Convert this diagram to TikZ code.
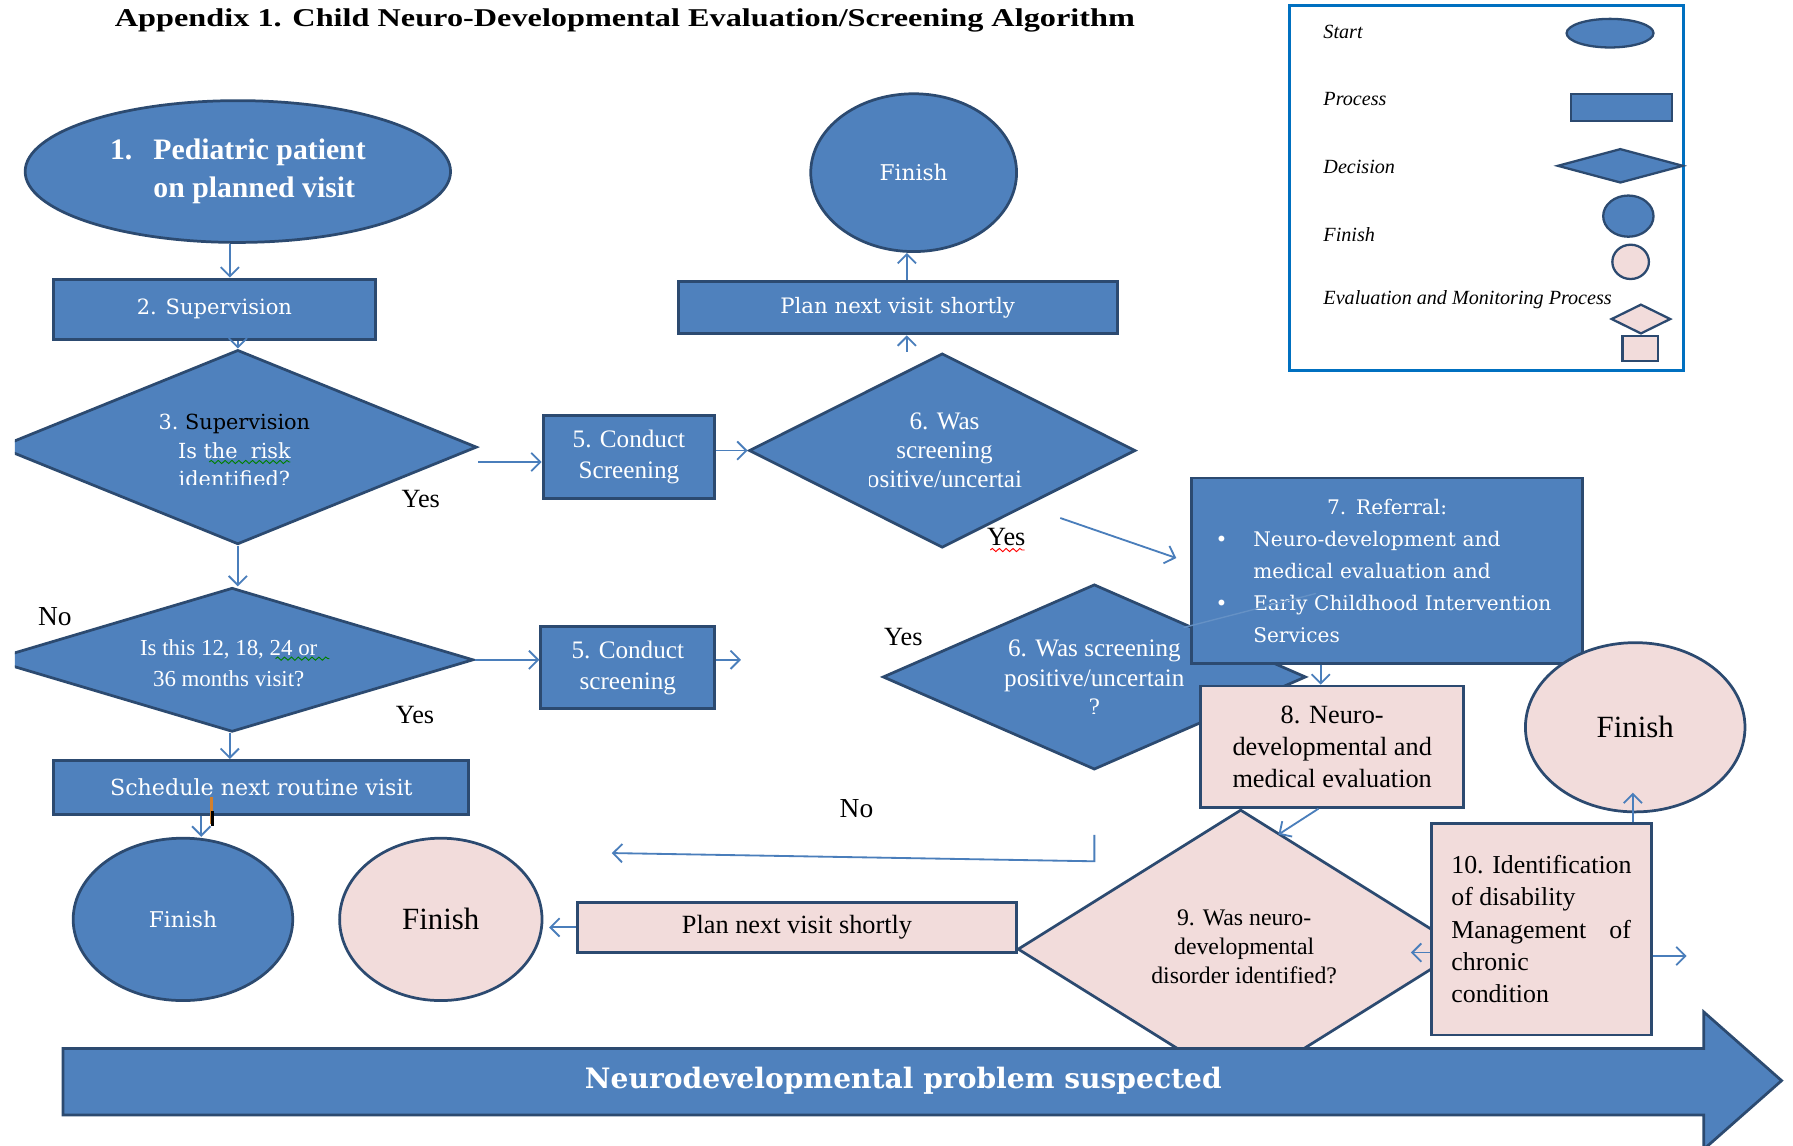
\documentclass[tikz,border=0pt]{standalone}
\usepackage{fontspec}
\setmainfont{Liberation Serif}
\newfontfamily\dvs{DejaVu Serif}
\newfontfamily\ttlf[FakeStretch=1.26]{Liberation Serif}
\usetikzlibrary{shapes.geometric,arrows.meta,calc,decorations.pathmorphing}
\definecolor{bF}{RGB}{79,129,189}
\definecolor{bD}{RGB}{44,74,112}
\definecolor{pF}{RGB}{242,220,219}
\definecolor{aC}{RGB}{74,126,187}
\definecolor{lgB}{RGB}{0,112,192}
\tikzset{
  bfill/.style={fill=bF, draw=bD, line width=1.2pt},
  pfill/.style={fill=pF, draw=bD, line width=1.2pt},
  arr/.style={draw=aC, line width=0.8pt, -{Straight Barb[length=4pt,width=8pt]}},
  wtxt/.style={text=white, align=center, inner sep=0pt},
  dtxt/.style={text=black, align=center, inner sep=0pt},
  rbox/.style={rectangle, inner sep=0pt},
  ell/.style={ellipse, inner sep=0pt},
  dia/.style={diamond, inner sep=0pt},
  lbl/.style={inner sep=0pt, font=\fontsize{11.5}{13}\selectfont},
  lgt/.style={inner sep=0pt, anchor=west, font=\itshape\fontsize{8.8}{10}\selectfont},
  squig/.style={line width=0.4pt, decorate, decoration={snake, amplitude=0.7pt, segment length=3pt}}
}
\begin{document}
\begin{tikzpicture}[x=0.5pt,y=-0.5pt]
\useasboundingbox (0,0) rectangle (1568,1002);
\fill[white] (0,0) rectangle (1568,1002);

% title
\node[inner sep=0pt, font=\ttlf\bfseries\fontsize{11.2}{13}\selectfont] (title) at (546.5,18) {Appendix 1. Child Neuro-Developmental Evaluation/Screening Algorithm};

% legend
\node[rectangle, draw=lgB, line width=1.3pt, minimum width=172pt, minimum height=159.5pt, inner sep=0pt] (legend) at (1300,164.5) {};
\node[lgt] (lgt1) at (1157,28) {Start};
\node[lgt] (lgt2) at (1157,87) {Process};
\node[lgt] (lgt3) at (1157,146) {Decision};
\node[lgt] (lgt4) at (1157,205) {Finish};
\node[lgt] (lgt5) at (1157,262) {Evaluation and Monitoring Process};
\node[ell, bfill, line width=1pt, minimum width=38pt, minimum height=12.5pt] (lg1) at (1408,29) {};
\node[rbox, bfill, line width=1pt, minimum width=44pt, minimum height=12pt] (lg2) at (1418,94) {};
\node[dia, bfill, line width=1pt, minimum width=55pt, minimum height=15pt] (lg3) at (1417,145) {};
\node[ell, bfill, line width=1pt, minimum width=22pt, minimum height=18pt] (lg4) at (1424,189) {};
\node[ell, pfill, line width=1pt, minimum width=16pt, minimum height=15pt] (lg5) at (1426,229) {};
\node[dia, pfill, line width=1pt, minimum width=26pt, minimum height=13pt] (lg6) at (1435,279) {};
\node[rbox, pfill, line width=1pt, minimum width=15.5pt, minimum height=11pt] (lg7) at (1434.5,305) {};

% start
\node[ell, bfill, minimum width=186pt, minimum height=62pt, text=white, align=left,
      font=\bfseries\fontsize{13}{16.5}\selectfont] (n1) at (208,150)
  {\makebox[19pt][l]{1.}Pediatric patient\\\hspace*{19pt}on planned visit};

\node[rbox, bfill, line width=1.3pt, minimum width=140.5pt, minimum height=26.5pt, text=white,
      font=\dvs\fontsize{9.2}{11}\selectfont] (n2) at (187.5,270.5) {2. Supervision};

% left clipped diamonds
\begin{scope}
\clip (13,0) rectangle (1568,1002);
\node[dia, bfill, minimum width=209pt, minimum height=85pt] (n3) at (208,391) {};
\node[dia, bfill, minimum width=211pt, minimum height=63pt] (n4) at (203,577) {};
\end{scope}
\begin{scope}
\clip (0,0) rectangle (1568,424);
\node[wtxt, font=\dvs\fontsize{9.1}{12.5}\selectfont] (t3) at (205,394)
  {3.\ \textcolor{black}{Supervision}\\Is the\ \ risk\\identified?};
\end{scope}
\draw[green!50!black, squig] (183,404) -- (254,404);
\node[wtxt, font=\fontsize{10}{13.5}\selectfont] (t4) at (200,580) {Is this 12, 18, 24 or\\36 months visit?};
\draw[green!50!black, squig] (241,576) -- (288,576);

\node[rbox, bfill, line width=1.3pt, minimum width=75pt, minimum height=36.5pt, text=white, align=center,
      font=\fontsize{11}{13.5}\selectfont] (n5a) at (550,399.5) {5. Conduct\\Screening};
\node[rbox, bfill, line width=1.3pt, minimum width=76pt, minimum height=36pt, text=white, align=center,
      font=\fontsize{11}{13.5}\selectfont] (n5b) at (549,584) {5. Conduct\\screening};

% diamond 6a
\node[dia, bfill, minimum width=169pt, minimum height=85pt] (n6a) at (824,394) {};
\begin{scope}
\clip (760,0) rectangle (893,1002);
\node[wtxt, font=\fontsize{11}{12.5}\selectfont] (t6a) at (826,396) {6. Was\\screening\\positive/uncertain};
\end{scope}

\node[rbox, bfill, line width=1.3pt, minimum width=192pt, minimum height=23pt, text=white,
      font=\dvs\fontsize{9.3}{11}\selectfont] (np1) at (785,269) {Plan next visit shortly};
\node[ell, bfill, minimum width=90pt, minimum height=69pt, text=white,
      font=\dvs\fontsize{9.5}{11}\selectfont] (f1) at (799,151) {Finish};

% diamond 6b
\node[dia, bfill, minimum width=185pt, minimum height=81pt] (n6b) at (957,592) {};
\begin{scope}
\clip (0,0) rectangle (1568,624);
\node[wtxt, font=\fontsize{11}{13}\selectfont] (t6b) at (957,593) {6. Was screening\\positive/uncertain\\?};
\end{scope}

% referral
\node[rbox, bfill, line width=1.3pt, minimum width=171pt, minimum height=81pt, text=white, align=left,
      text width=155pt, font=\dvs\fontsize{8.8}{14}\selectfont] (n7) at (1213,499)
  {\makebox[155pt][c]{7. Referral:}\\
   \hspace*{2.5pt}\makebox[16.5pt][l]{\textbullet}Neuro-development and\\
   \hspace*{19pt}medical evaluation and\\
   \hspace*{2.5pt}\makebox[16.5pt][l]{\textbullet}Early Childhood Intervention\\
   \hspace*{19pt}Services};
\draw[aC!85, line width=0.6pt] ($(n6b.north)+(78,39)$) -- ($(n7.west)+(110,20)$);

% diamond 9
\node[dia, pfill, minimum width=195pt, minimum height=122pt] (n9) at (1085,830) {};
\node[dtxt, font=\fontsize{10.4}{12.5}\selectfont] (t9) at (1088,828) {9. Was neuro-\\developmental\\disorder identified?};

\node[rbox, pfill, minimum width=115pt, minimum height=53pt, align=center,
      font=\fontsize{11.5}{14}\selectfont] (n8) at (1165,653) {8. Neuro-\\developmental and\\medical evaluation};

\node[rbox, pfill, minimum width=96pt, minimum height=92.5pt, align=left,
      font=\fontsize{11.3}{14.1}\selectfont] (n10) at (1348,812.5)
  {10. Identification\\of disability\\\hbox to 78.5pt{Management\hfill of}\\chronic\\condition};

\node[ell, pfill, minimum width=96pt, minimum height=74pt, font=\fontsize{13.5}{15}\selectfont] (f4) at (1430,636) {Finish};

% bottom row
\node[rbox, pfill, minimum width=192pt, minimum height=22pt, font=\fontsize{11.5}{13}\selectfont] (np2) at (697,811) {Plan next visit shortly};
\node[ell, pfill, minimum width=88.5pt, minimum height=71pt, font=\fontsize{13.5}{15}\selectfont] (f3) at (385.5,804) {Finish};
\node[ell, bfill, minimum width=96pt, minimum height=71pt, text=white, font=\dvs\fontsize{9.5}{11}\selectfont] (f2) at (160,804) {Finish};

\node[rbox, bfill, line width=1.3pt, minimum width=181.5pt, minimum height=23.5pt, text=white,
      font=\dvs\fontsize{9.7}{11}\selectfont] (ns) at (228.5,688.5) {Schedule next routine visit};
\draw[brown!70!orange, line width=1pt] (185,697) -- (185,721);
\draw[black, line width=1.2pt] (186,709) -- (186,722);

% big arrow
\draw[bfill] (55,917) -- (1490,917) -- (1490,885) -- (1558,945) -- (1490,1005) -- (1490,975) -- (55,975) -- cycle;
\node[text=white, inner sep=0pt, font=\dvs\bfseries\fontsize{12.3}{14}\selectfont] (bigt) at (790,945) {Neurodevelopmental problem suspected};

% labels
\node[lbl] (y1) at (368,436) {Yes};
\node[lbl] (y2) at (880,470) {Yes};
\draw[red, squig] (866,481) -- (896,481);
\node[lbl, font=\fontsize{12}{13}\selectfont] (no1) at (48,539) {No};
\node[lbl] (y3) at (363,625) {Yes};
\node[lbl] (y4) at (790,557) {Yes};
\node[lbl, font=\fontsize{12}{13}\selectfont] (no2) at (749,707) {No};

% connectors
\draw[arr] ($(n1.south)+(-7,0)$) -- ($(n1.south |- n2.north)+(-7,0)$);
\draw[arr] (n2.south -| n3.north) -- (n3.north);
\draw[arr] (n3.south) -- (n3.south |- n4.north);
\draw[arr] (n3.east |- 0,404) -- (n5a.west |- 0,404);
\draw[arr] (n5a.east |- n6a.west) -- (n6a.west);
\draw[arr] (793,0 |- n6a.north) -- (793,0 |- np1.south);
\draw[arr] (793,0 |- np1.north) -- (793,0 |- f1.south);
\draw[arr] ($(n6a.east)+(-67,59)$) -- ($(n7.west)+(-12,-11)$);
\draw[arr] (n4.east) -- (n4.east -| n5b.west);
\coordinate (c5b) at (648,577);
\draw[arr] (n5b.east |- c5b) -- (c5b);
\draw[arr] (201,0 |- n4.south) -- (201,0 |- ns.north);
\draw[arr] (176,0 |- ns.south) -- (176,0 |- f2.north);
\draw[arr] (np2.west) -- ($(f3.east |- np2.west)+(5,0)$);
\coordinate (cNo) at (535,746);
\draw[arr] ($(n6b.south)+(0,56)$) -- ($(n6b.south)+(0,79)$) -- (cNo);
\draw[arr] (1155,0 |- n7.south) -- (1155,0 |- n8.north);
\draw[arr] ($(n8.south)+(-12,0)$) -- ($(n9.north)+(33,23)$);
\coordinate (c10w) at (n10.west |- 0,833);
\draw[arr] (c10w) -- ($(c10w)+(-17,0)$);
\coordinate (c10e) at (1475,836);
\draw[arr] (n10.east |- c10e) -- (c10e);
\draw[arr] (1428,0 |- n10.north) -- ($(1428,0 |- f4.south)+(0,-18)$);
\end{tikzpicture}
\end{document}
